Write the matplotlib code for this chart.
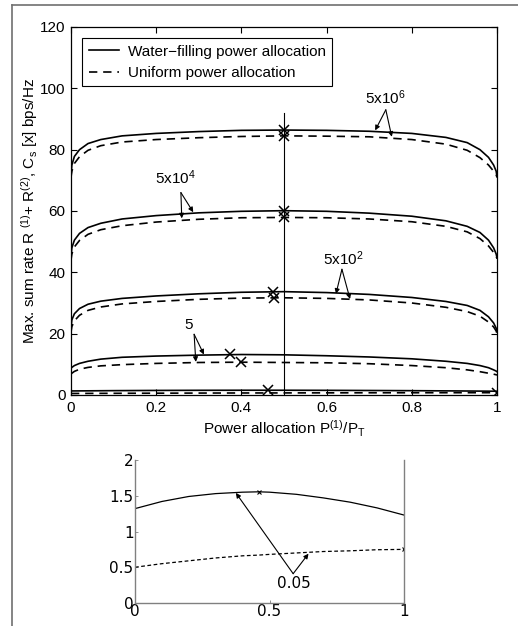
import matplotlib
matplotlib.use('Agg')
import matplotlib.pyplot as plt
from matplotlib.lines import Line2D

plt.rcParams['font.family'] = ['Liberation Sans', 'DejaVu Sans']
plt.rcParams['mathtext.fontset'] = 'custom'
plt.rcParams['mathtext.rm'] = 'Liberation Sans'
plt.rcParams['mathtext.it'] = 'Liberation Sans'

# power allocation P(1)/PT sample points
x_pts = [0.0, 0.002, 0.008, 0.02, 0.04, 0.07, 0.12, 0.2, 0.3, 0.4, 0.5,
         0.6, 0.7, 0.8, 0.88, 0.93, 0.96, 0.98, 0.992, 0.998, 1.0]

# SNR 5x10^6
wf_6 = [71.5, 75.0, 77.8, 80.0, 82.0, 83.3, 84.5, 85.3, 85.9, 86.3, 86.4,
        86.3, 86.0, 85.3, 84.0, 82.3, 80.0, 77.5, 75.0, 73.0, 71.2]
un_6 = [71.0, 73.0, 75.5, 77.7, 79.8, 81.3, 82.5, 83.3, 83.9, 84.3, 84.5,
        84.4, 84.2, 83.3, 81.8, 79.8, 77.4, 75.0, 73.0, 71.8, 71.0]
# SNR 5x10^4
wf_4 = [45.0, 48.0, 50.5, 52.7, 54.6, 56.0, 57.4, 58.5, 59.4, 59.9, 60.1,
        59.9, 59.3, 58.3, 56.8, 55.0, 53.0, 50.5, 48.0, 46.0, 44.7]
un_4 = [44.0, 46.0, 48.3, 50.4, 52.4, 53.9, 55.2, 56.4, 57.3, 57.8, 57.9,
        57.8, 57.4, 56.5, 55.0, 53.2, 51.0, 48.6, 46.5, 45.2, 44.5]
# SNR 5x10^2
wf_2 = [22.0, 24.5, 26.5, 28.2, 29.6, 30.6, 31.5, 32.3, 33.0, 33.5, 33.7,
        33.4, 32.8, 31.8, 30.5, 29.2, 27.6, 25.5, 23.5, 21.8, 20.6]
un_2 = [20.5, 22.3, 24.2, 26.0, 27.6, 28.7, 29.7, 30.5, 31.2, 31.6, 31.7,
        31.5, 31.0, 30.0, 28.6, 27.2, 25.7, 23.8, 22.2, 20.9, 20.0]
# SNR 5
wf_0 = [8.7, 9.0, 9.6, 10.3, 11.0, 11.7, 12.3, 12.7, 13.0, 13.2, 13.1,
        12.8, 12.4, 11.8, 11.0, 10.3, 9.6, 8.9, 8.2, 7.8, 7.6]
un_0 = [6.8, 7.1, 7.7, 8.4, 9.0, 9.5, 9.9, 10.3, 10.6, 10.7, 10.6,
        10.5, 10.2, 9.6, 8.9, 8.2, 7.6, 7.1, 6.8, 6.6, 6.5]

# SNR 0.05 (also shown in the inset)
x_low = [0.0, 0.1, 0.2, 0.3, 0.4, 0.46, 0.5, 0.6, 0.7, 0.8, 0.9, 1.0]
wf_low = [1.32, 1.42, 1.49, 1.53, 1.55, 1.555, 1.55, 1.52, 1.47, 1.41, 1.33, 1.23]
un_low = [0.50, 0.55, 0.59, 0.63, 0.66, 0.67, 0.68, 0.70, 0.72, 0.73, 0.745, 0.75]

# optimum points marked with x
opt_x = [0.5, 0.5, 0.5, 0.5, 0.475, 0.477, 0.373, 0.40, 0.463, 1.0]
opt_y = [86.4, 84.5, 60.1, 57.9, 33.7, 31.7, 13.3, 10.6, 1.555, 0.75]

fig = plt.figure(figsize=(5.18, 6.26), dpi=100)

# frame around the figure
fig.add_artist(Line2D([12 / 518, 1], [1 - 5 / 626, 1 - 5 / 626], color='#707070', lw=1.2))
fig.add_artist(Line2D([12 / 518, 12 / 518], [0, 1 - 5 / 626], color='#707070', lw=1.2))

ax = fig.add_axes([71 / 518, 1 - 395 / 626, 426 / 518, 368 / 626])
dash = (0, (5, 3.5))
lw = 1.2

curves = [(wf_6, un_6), (wf_4, un_4), (wf_2, un_2), (wf_0, un_0)]
for i, (wf, un) in enumerate(curves):
    ax.plot(x_pts, wf, color='k', lw=lw,
            label='Water\u2212filling power allocation' if i == 0 else None)
    ax.plot(x_pts, un, color='k', lw=lw, linestyle=dash,
            label='Uniform power allocation' if i == 0 else None)
ax.plot(x_low, wf_low, color='k', lw=lw)
ax.plot(x_low, un_low, color='k', lw=lw, linestyle=dash)
ax.plot(opt_x, opt_y, linestyle='none', marker='x', color='k', ms=7, mew=1.1)
ax.plot([0.5, 0.5], [0, 92], color='k', lw=0.8)

ax.set_xlim(0, 1)
ax.set_ylim(0, 120)
ax.set_xticks([0, 0.2, 0.4, 0.6, 0.8, 1])
ax.set_xticklabels(['0', '0.2', '0.4', '0.6', '0.8', '1'])
ax.set_yticks([0, 20, 40, 60, 80, 100, 120])
ax.tick_params(direction='in', top=True, right=True, labelsize=11, length=4, width=0.8, pad=4)
for s in ax.spines.values():
    s.set_linewidth(0.9)
ax.set_xlabel('Power allocation P$^{(1)}$/P$_T$', fontsize=11, labelpad=3)
ax.set_ylabel('Max. sum rate R $^{(1)}$+ R$^{(2)}$, C$_s$ [x] bps/Hz', fontsize=11)
ax.yaxis.set_label_coords(-0.073, 0.5)

leg = ax.legend(loc='upper left', fontsize=11, fancybox=False, edgecolor='k',
                handlelength=2.0, handletextpad=0.6, borderaxespad=0.75, framealpha=1)
leg.get_frame().set_linewidth(0.8)

arrow = dict(arrowstyle='-|>', color='k', lw=0.8, mutation_scale=7, shrinkA=0, shrinkB=0)
labels = [('5x10$^6$', (0.737, 97), (0.739, 93), [(0.714, 86.3), (0.753, 84.2)]),
          ('5x10$^4$', (0.244, 70.7), (0.258, 66), [(0.287, 59.6), (0.26, 57.6)]),
          ('5x10$^2$', (0.639, 44.6), (0.636, 41), [(0.622, 33.0), (0.655, 31.3)]),
          ('5', (0.277, 22.8), (0.289, 19.8), [(0.312, 13.2), (0.293, 10.8)])]
for txt, tpos, origin, ends in labels:
    ax.text(tpos[0], tpos[1], txt, fontsize=11, ha='center', va='center')
    for e in ends:
        ax.annotate('', xy=e, xytext=origin, arrowprops=arrow)

# inset with the 0.05 curves
ins = fig.add_axes([135 / 518, 1 - 603 / 626, 269 / 518, 143 / 626])
ins.plot(x_low, wf_low, color='k', lw=0.9)
ins.plot(x_low, un_low, color='k', lw=0.9, linestyle=(0, (3, 2)))
ins.plot([0.46, 1.0], [1.555, 0.75], linestyle='none', marker='x', color='k', ms=3, mew=0.8)
ins.set_xlim(0, 1)
ins.set_ylim(0, 2)
ins.set_xticks([0, 0.5, 1])
ins.set_xticklabels(['0', '0.5', '1'])
ins.set_yticks([0, 0.5, 1, 1.5, 2])
ins.set_yticklabels(['0', '0.5', '1', '1.5', '2'])
ins.tick_params(direction='in', labelsize=11, length=2, width=0.6, color='#808080', pad=1)
for lab in ins.get_xticklabels() + ins.get_yticklabels():
    lab.set_family('DejaVu Sans')
ins.spines['top'].set_visible(False)
for k in ['left', 'right', 'bottom']:
    ins.spines[k].set_color('#808080')
    ins.spines[k].set_linewidth(1.0)
ins.text(0.591, 0.27, '0.05', fontsize=11, family='DejaVu Sans', ha='center', va='center')
for e in [(0.375, 1.54), (0.645, 0.69)]:
    ins.annotate('', xy=e, xytext=(0.588, 0.41), arrowprops=arrow)

fig.savefig('out.png', dpi=100)
